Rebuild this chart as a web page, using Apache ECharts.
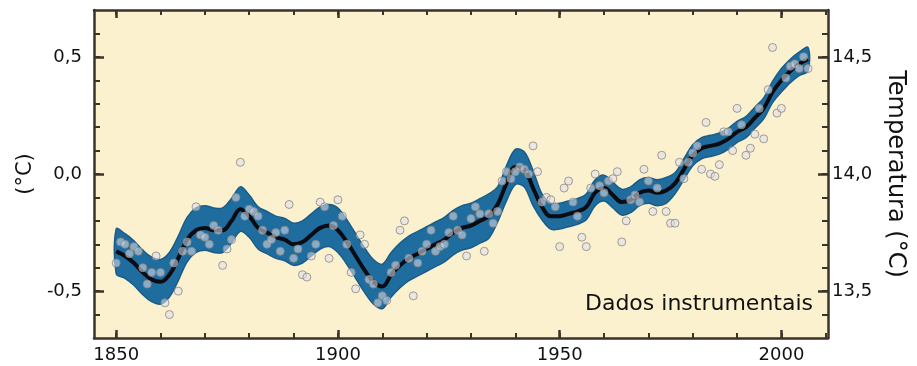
<!DOCTYPE html>
<html>
<head>
<meta charset="utf-8">
<script src="https://cdn.jsdelivr.net/npm/echarts@6/dist/echarts.min.js"></script>
<style>
  html, body { margin: 0; padding: 0; background: #ffffff; }
  #chart { width: 917px; height: 366px; }
</style>
</head>
<body>
<div id="chart"></div>
<script>
// smoothed curve (every 2 years) and its uncertainty band, anomaly in degC
var smoothYears = [1850,1852,1854,1856,1858,1860,1862,1864,1866,1868,1870,1872,1874,1876,1878,
    1880,1882,1884,1886,1888,1890,1892,1894,1896,1898,1900,1902,1904,1906,1908,1910,1912,1914,
    1916,1918,1920,1922,1924,1926,1928,1930,1932,1934,1936,1938,1940,1942,1944,1946,1948,1950,
    1952,1954,1956,1958,1960,1962,1964,1966,1968,1970,1972,1974,1976,1978,1980,1982,1984,1986,
    1988,1990,1992,1994,1996,1998,2000,2002,2004,2006]
var smoothVals = [-0.33,-0.35,-0.38,-0.42,-0.45,-0.46,-0.43,-0.36,-0.28,-0.24,-0.23,-0.24,-0.24,-0.20,-0.15,
    -0.18,-0.23,-0.25,-0.27,-0.28,-0.30,-0.29,-0.26,-0.23,-0.22,-0.24,-0.29,-0.35,-0.41,-0.46,-0.48,-0.43,-0.39,
    -0.36,-0.34,-0.32,-0.30,-0.28,-0.25,-0.23,-0.22,-0.20,-0.18,-0.13,-0.04,0.03,0.02,-0.06,-0.14,-0.18,-0.18,
    -0.17,-0.16,-0.14,-0.08,-0.06,-0.09,-0.12,-0.11,-0.08,-0.07,-0.08,-0.07,-0.04,0.02,0.08,0.11,0.12,0.13,
    0.15,0.18,0.20,0.24,0.28,0.35,0.40,0.44,0.47,0.49]
var bandHigh = [-0.235,-0.255,-0.285,-0.325,-0.355,-0.365,-0.335,-0.265,-0.185,-0.145,-0.135,-0.145,-0.145,-0.105,-0.055,
    -0.09,-0.14,-0.16,-0.18,-0.19,-0.21,-0.20,-0.17,-0.14,-0.13,-0.145,-0.195,-0.255,-0.315,-0.365,-0.385,-0.335,-0.295,
    -0.265,-0.245,-0.225,-0.205,-0.185,-0.155,-0.135,-0.125,-0.105,-0.085,-0.055,0.035,0.105,0.095,0.015,-0.085,-0.125,-0.125,
    -0.115,-0.105,-0.085,-0.025,-0.005,-0.035,-0.065,-0.055,-0.025,-0.015,-0.025,-0.015,0.005,0.065,0.125,0.155,0.165,0.175,
    0.195,0.225,0.245,0.285,0.325,0.395,0.45,0.49,0.52,0.54]
var bandLow = [-0.425,-0.445,-0.475,-0.515,-0.545,-0.555,-0.525,-0.455,-0.375,-0.335,-0.325,-0.335,-0.335,-0.295,-0.245,
    -0.27,-0.32,-0.34,-0.36,-0.37,-0.39,-0.38,-0.35,-0.32,-0.31,-0.335,-0.385,-0.445,-0.505,-0.555,-0.575,-0.525,-0.485,
    -0.455,-0.435,-0.415,-0.395,-0.375,-0.345,-0.325,-0.315,-0.295,-0.275,-0.205,-0.115,-0.045,-0.055,-0.135,-0.195,-0.235,-0.235,
    -0.225,-0.215,-0.195,-0.135,-0.115,-0.145,-0.175,-0.165,-0.135,-0.125,-0.135,-0.125,-0.085,-0.025,0.035,0.065,0.075,0.085,
    0.105,0.135,0.155,0.195,0.235,0.305,0.35,0.39,0.42,0.44]

// annual values, one per year from 1850
var firstYear = 1850
var annualVals = [
    -0.38,-0.29,-0.30,-0.34,-0.31,-0.33,-0.40,-0.47,-0.42,-0.35,   // 1850s
    -0.42,-0.55,-0.60,-0.38,-0.50,-0.33,-0.29,-0.33,-0.14,-0.26,   // 1860s
    -0.27,-0.30,-0.22,-0.24,-0.39,-0.32,-0.28,-0.10,0.05,-0.18,    // 1870s
    -0.15,-0.16,-0.18,-0.24,-0.30,-0.28,-0.25,-0.33,-0.24,-0.13,   // 1880s
    -0.36,-0.32,-0.43,-0.44,-0.35,-0.30,-0.12,-0.14,-0.36,-0.22,   // 1890s
    -0.11,-0.18,-0.30,-0.42,-0.49,-0.26,-0.30,-0.45,-0.47,-0.55,   // 1900s
    -0.52,-0.54,-0.42,-0.39,-0.24,-0.20,-0.36,-0.52,-0.38,-0.33,   // 1910s
    -0.30,-0.24,-0.33,-0.31,-0.30,-0.25,-0.18,-0.24,-0.26,-0.35,   // 1920s
    -0.19,-0.14,-0.17,-0.33,-0.17,-0.21,-0.16,-0.03,0.01,-0.02,    // 1930s
    0.01,0.03,0.02,0.00,0.12,0.01,-0.12,-0.10,-0.11,-0.14,         // 1940s
    -0.31,-0.06,-0.03,-0.12,-0.18,-0.27,-0.31,-0.06,0.00,-0.05,    // 1950s
    -0.08,-0.03,-0.02,0.01,-0.29,-0.20,-0.11,-0.09,-0.12,0.02,     // 1960s
    -0.03,-0.16,-0.06,0.08,-0.16,-0.21,-0.21,0.05,-0.02,0.05,      // 1970s
    0.09,0.12,0.02,0.22,0.00,-0.01,0.04,0.18,0.18,0.10,            // 1980s
    0.28,0.21,0.08,0.11,0.17,0.28,0.15,0.36,0.54,0.26,             // 1990s
    0.28,0.41,0.46,0.47,0.45,0.50,0.45                             // 2000s
]

var xMajor = [1850, 1900, 1950, 2000]
var xMinor = [1850,1860,1870,1880,1890,1900,1910,1920,1930,1940,1950,1960,1970,1980,1990,2000,2010]
var yMajor = [-0.5, 0, 0.5]
var yMinor = [-0.6,-0.5,-0.4,-0.3,-0.2,-0.1,0,0.1,0.2,0.3,0.4,0.5,0.6]
var absMajor = [13.5, 14.0, 14.5]
var absMinor = [13.4,13.5,13.6,13.7,13.8,13.9,14.0,14.1,14.2,14.3,14.4,14.5,14.6]

var ink = '#3a3428'
var paper = '#fcf1cf'
var font = 'DejaVu Sans'

function comma(v) {
    return v.toFixed(1).replace('.', ',')
}

function xAx(pos, ticks, len, w, labels) {
    return {
        type: 'value', position: pos, min: 1845, max: 2010.5,
        axisLine: { show: labels !== null, onZero: false, lineStyle: { color: ink, width: 2.5 } },
        axisTick: { show: true, inside: true, customValues: ticks, length: len, lineStyle: { color: ink, width: w } },
        axisLabel: labels ? {
            show: true, customValues: labels, color: '#111', fontSize: 18, fontFamily: font, margin: 8,
            formatter: function (v) { return String(v) }
        } : { show: false },
        splitLine: { show: false }
    }
}

function yAx(pos, lo, hi, ticks, len, w, labels, margin) {
    return {
        type: 'value', position: pos, min: lo, max: hi,
        axisLine: { show: labels !== null, onZero: false, lineStyle: { color: ink, width: 2.5 } },
        axisTick: { show: true, inside: true, customValues: ticks, length: len, lineStyle: { color: ink, width: w } },
        axisLabel: labels ? { show: true, customValues: labels, color: '#111', fontSize: 18, fontFamily: font, margin: margin, formatter: comma } : { show: false },
        splitLine: { show: false }
    }
}

var lineData = []
for (var i = 0; i < smoothYears.length; i++) {
    lineData.push([smoothYears[i], smoothVals[i]])
}
var dotData = []
for (var j = 0; j < annualVals.length; j++) {
    dotData.push([firstYear + j, annualVals[j]])
}

// band outline: along the top edge, then back along the bottom edge
function renderBand(params, api) {
    var pts = []
    for (var k = 0; k < smoothYears.length; k++) {
        pts.push(api.coord([smoothYears[k], bandHigh[k]]))
    }
    for (var k2 = smoothYears.length - 1; k2 >= 0; k2--) {
        pts.push(api.coord([smoothYears[k2], bandLow[k2]]))
    }
    return {
        type: 'polygon',
        shape: { points: pts, smooth: 0.35 },
        style: { fill: '#1f6d9f', stroke: '#195c89', lineWidth: 1.5 }
    }
}

var yLeft = yAx('left', -0.7, 0.7, yMajor, 10, 2.5, yMajor, 12)
yLeft.name = '(°C)'
yLeft.nameLocation = 'middle'
yLeft.nameRotate = 90
yLeft.nameGap = 55
yLeft.nameTextStyle = { fontSize: 21, fontFamily: font, color: '#111' }

var yRight = yAx('right', 13.3, 14.7, absMajor, 10, 2.5, absMajor, 4)
yRight.name = 'Temperatura (°C)'
yRight.nameLocation = 'middle'
yRight.nameRotate = -90
yRight.nameGap = 53
yRight.nameTextStyle = { fontSize: 24, fontFamily: font, color: '#111' }

var option = {
    animation: false,
    backgroundColor: '#ffffff',
    grid: { left: 94, right: 89, top: 10, bottom: 28, show: true, backgroundColor: paper, borderWidth: 0 },
    xAxis: [
        xAx('bottom', xMajor, 8, 2.5, xMajor),
        xAx('bottom', xMinor, 5, 2, null),
        xAx('top', xMajor, 8, 2.5, []),
        xAx('top', xMinor, 5, 2, null)
    ],
    yAxis: [
        yLeft,
        yAx('left', -0.7, 0.7, yMinor, 6, 2, null, 0),
        yRight,
        yAx('right', 13.3, 14.7, absMinor, 6, 2, null, 0)
    ],
    graphic: [{
        type: 'text', right: 917 - 813, top: 293, z: 100,
        style: { text: 'Dados instrumentais', fontSize: 22, fontFamily: font, fill: '#111' }
    }],
    series: [
        {
            name: 'band', type: 'custom', data: [0], renderItem: renderBand, silent: true, z: 2
        },
        {
            name: 'curve', type: 'line', data: lineData, smooth: 0.4, symbol: 'none',
            lineStyle: { color: '#0b0b14', width: 4 }, z: 3
        },
        {
            name: 'annual', type: 'scatter', data: dotData, symbolSize: 8,
            itemStyle: { color: 'rgba(222,222,235,0.7)', borderColor: '#8a877f', borderWidth: 1 }, z: 4
        }
    ]
}

var myChart = echarts.init(document.getElementById('chart'))
myChart.setOption(option)
</script>
</body>
</html>
